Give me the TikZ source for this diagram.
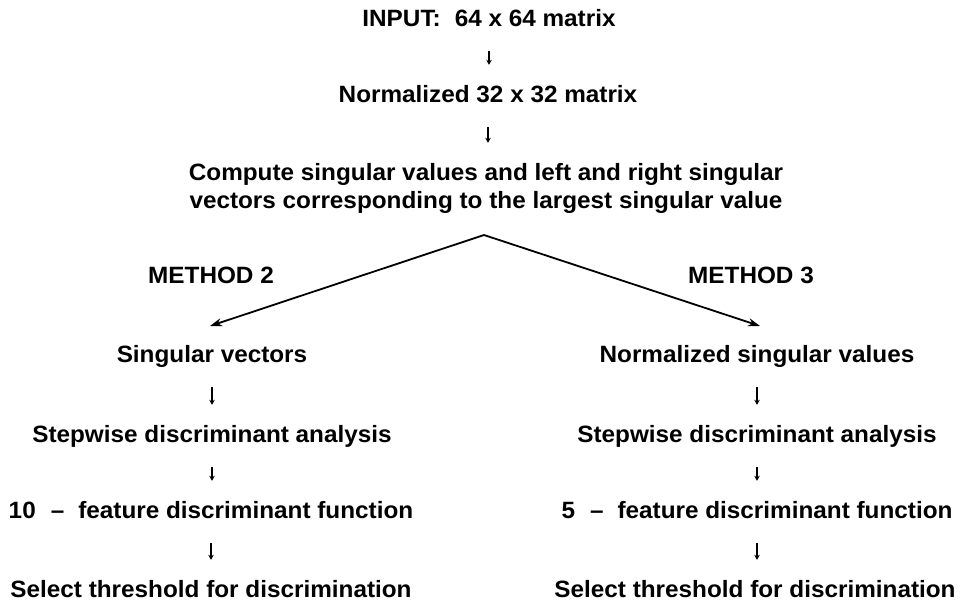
\documentclass[tikz,border=0pt]{standalone}
\usepackage{fontspec}
\setmainfont{Liberation Sans}[FakeStretch=1.03]
\usetikzlibrary{arrows.meta}
\begin{document}
\begin{tikzpicture}[x=1pt,y=-1pt,
  lbl/.style={anchor=base, inner sep=0pt, text height=17pt, text depth=5pt,
    font=\fontsize{23.6}{28}\selectfont\bfseries},
  lblw/.style={lbl, anchor=base west},
  down/.style={-{Stealth[length=5pt,width=5.5pt]}, line width=1.3pt,
    shorten <=20pt, shorten >=20pt},
  split/.style={-{Stealth[length=12pt,width=8pt]}, line width=1.8pt}]
\useasboundingbox (0,0) rectangle (960,605);
% top chain
\node[lbl] (in) at (489,26) {INPUT:\hspace{14pt}64 x 64 matrix};
\node[lbl] (norm) at (488,102) {Normalized 32 x 32 matrix};
\node[lbl] (comp1) at (486,180) {Compute singular values and left and right singular};
\node[lbl] (comp2) at (486,208) {vectors corresponding to the largest singular value};
\coordinate (apex) at (484,235);
\node[lblw] (m2) at (148,283) {METHOD 2};
\node[lblw] (m3) at (688,283) {METHOD 3};
\coordinate (tipL) at (210,326);
\coordinate (tipR) at (760,326);
% left column
\node[lbl] (l1) at (212,362) {Singular vectors};
\node[lbl] (l2) at (212,442) {Stepwise discriminant analysis};
\node[lbl] (l3) at (211,518) {10\hspace{15pt}–\hspace{14pt}feature discriminant function};
\node[lbl] (l4) at (211,597) {Select threshold for discrimination};
% right column
\node[lbl] (r1) at (757,362) {Normalized singular values};
\node[lbl] (r2) at (757,442) {Stepwise discriminant analysis};
\node[lbl] (r3) at (757,518) {5\hspace{15pt}–\hspace{14pt}feature discriminant function};
\node[lbl] (r4) at (755,597) {Select threshold for discrimination};
% connectors
\draw[down] (in.south) -- (in.south |- norm.north);
\draw[down] (norm.south) -- (norm.south |- comp1.north);
\draw[split] (apex) -- (tipL);
\draw[split] (apex) -- (tipR);
\draw[down] (l1.south) -- (l1.south |- l2.north);
\draw[down] (l2.south) -- (l2.south |- l3.north);
\draw[down] (l3.south) -- (l3.south |- l4.north);
\draw[down] (r1.south) -- (r1.south |- r2.north);
\draw[down] (r2.south) -- (r2.south |- r3.north);
\draw[down] (r3.south) -- (r3.south |- r4.north);
\end{tikzpicture}
\end{document}
